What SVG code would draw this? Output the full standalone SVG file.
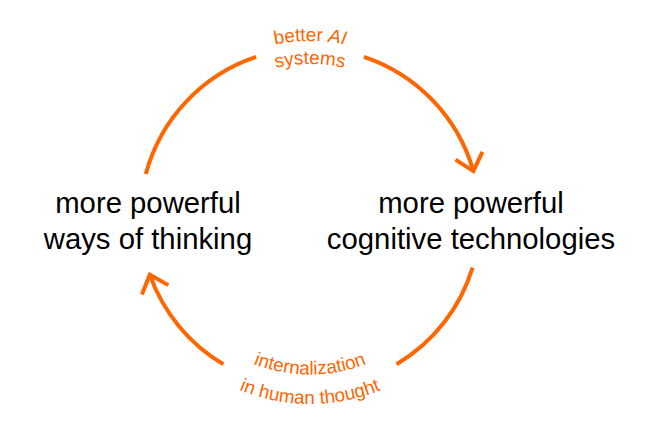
<svg xmlns="http://www.w3.org/2000/svg" width="653" height="437" viewBox="0 0 653 437">
<style>
.arc{fill:none;stroke:#ff6600;stroke-width:4;stroke-linecap:butt}
.node{font-family:"Liberation Sans",Arial,Helvetica,sans-serif;font-size:29.3px;fill:#000;text-anchor:middle}
.lbl{font-family:"Liberation Sans",Arial,Helvetica,sans-serif;font-size:18.8px;fill:#ff6600;text-anchor:middle}
</style>
<defs>
<marker id="ah" markerUnits="userSpaceOnUse" orient="auto" refX="0" refY="0" markerWidth="50" markerHeight="50" viewBox="-25 -25 50 50" overflow="visible">
<path d="M-16,-14 L0,0 L-16,14" fill="none" stroke="#ff6600" stroke-width="4" stroke-linejoin="miter"/>
</marker>
<path id="tp1" d="M184.85,92.85 A177 177 0 0 1 435.15,92.85"/>
<path id="tp2" d="M201.1,109.1 A154 154 0 0 1 418.9,109.1"/>
<path id="tp3" d="M174.46,296.25 A156.5 156.5 0 0 0 445.54,296.25"/>
<path id="tp4" d="M148.92,311 A186 186 0 0 0 471.08,311"/>
</defs>
<g id="connectors">
<path class="arc" d="M145.8,174 A170 170 0 0 1 256.1,56.8"/>
<path class="arc" d="M363.9,56.8 A170 170 0 0 1 473.4,171.1" marker-end="url(#ah)"/>
<path class="arc" d="M472.6,267.7 A170 170 0 0 1 396.6,364.3"/>
<path class="arc" d="M223.4,364.3 A170 170 0 0 1 149.8,274.7" marker-end="url(#ah)"/>
<text class="lbl"><textPath href="#tp1" startOffset="50%">better <tspan font-style="italic">AI</tspan></textPath></text>
<text class="lbl"><textPath href="#tp2" startOffset="50%">systems</textPath></text>
<text class="lbl"><textPath href="#tp3" startOffset="50%">internalization</textPath></text>
<text class="lbl"><textPath href="#tp4" startOffset="50%">in human thought</textPath></text>
</g>
<g id="node-ways">
<text class="node" x="148" y="213">more powerful</text>
<text class="node" x="148" y="249">ways of thinking</text>
</g>
<g id="node-tech">
<text class="node" x="471" y="213">more powerful</text>
<text class="node" x="471" y="249">cognitive technologies</text>
</g>
</svg>
